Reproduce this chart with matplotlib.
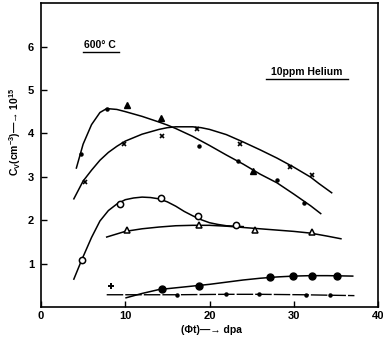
import matplotlib
matplotlib.use("Agg")
import matplotlib.pyplot as plt

plt.rcParams['font.family'] = ['Liberation Sans', 'DejaVu Sans']
plt.rcParams['font.weight'] = 'bold'
plt.rcParams['mathtext.fontset'] = 'custom'
plt.rcParams['mathtext.rm'] = 'Liberation Sans:bold'
plt.rcParams['mathtext.bf'] = 'Liberation Sans:bold'
plt.rcParams['mathtext.default'] = 'bf'

# fitted curves
top_x = [4.2, 5, 6, 7, 7.8, 9, 10, 12, 14, 15, 16, 18, 20, 22, 24, 26, 28, 30, 32, 33.2]
top_y = [3.2, 3.75, 4.2, 4.48, 4.57, 4.55, 4.5, 4.39, 4.26, 4.19, 4.11, 3.93, 3.72, 3.5, 3.29, 3.06, 2.86, 2.6, 2.33, 2.15]
cross_x = [3.9, 5, 6, 7, 8, 9, 10, 12, 14, 15, 16, 18, 19, 20, 22, 24, 26, 28, 30, 32, 33, 34.5]
cross_y = [2.49, 2.9, 3.15, 3.38, 3.56, 3.7, 3.82, 3.98, 4.09, 4.13, 4.15, 4.15, 4.13, 4.09, 3.97, 3.8, 3.62, 3.43, 3.22, 2.99, 2.84, 2.63]
sq_x = [3.9, 4.85, 6, 7, 8, 9, 10, 11, 12, 13, 14, 15, 16, 17, 18, 19, 20, 21, 22, 23, 24]
sq_y = [0.64, 1.09, 1.6, 1.98, 2.22, 2.37, 2.47, 2.51, 2.53, 2.52, 2.49, 2.42, 2.32, 2.2, 2.1, 2.01, 1.94, 1.9, 1.87, 1.86, 1.85]
tri_x = [7.8, 10, 12, 14, 16, 18, 20, 22, 24, 26, 28, 30, 32, 34, 35.6]
tri_y = [1.61, 1.74, 1.8, 1.84, 1.87, 1.88, 1.88, 1.86, 1.83, 1.8, 1.77, 1.74, 1.7, 1.63, 1.57]
circ_x = [10.1, 12, 14, 16, 18, 20, 22, 24, 26, 28, 30, 32, 34, 37]
circ_y = [0.21, 0.31, 0.4, 0.44, 0.48, 0.52, 0.57, 0.62, 0.66, 0.69, 0.71, 0.72, 0.72, 0.71]
low_x = [7.8, 16, 22, 26, 31, 37.2]
low_y = [0.28, 0.28, 0.29, 0.29, 0.28, 0.26]

# measured points
ftri_px = [10.2, 14.2, 25.2]
ftri_py = [4.66, 4.35, 3.12]
dot_px = [4.8, 7.8, 18.7, 23.4, 28.0, 31.2]
dot_py = [3.53, 4.57, 3.71, 3.36, 2.92, 2.4]
x_px = [5.2, 9.8, 14.4, 18.5, 23.6, 29.6, 32.2]
x_py = [2.88, 3.76, 3.93, 4.1, 3.75, 3.22, 3.03]
sq_px = [4.85, 9.4, 14.3, 18.6, 23.1]
sq_py = [1.09, 2.38, 2.5, 2.09, 1.88]
otri_px = [10.2, 18.8, 25.4, 32.2]
otri_py = [1.78, 1.89, 1.78, 1.72]
circ_px = [14.4, 18.7, 27.2, 29.95, 32.2, 35.1]
circ_py = [0.42, 0.48, 0.68, 0.71, 0.71, 0.71]
low_px = [16.2, 21.9, 25.9, 31.4, 34.3]
low_py = [0.28, 0.3, 0.29, 0.28, 0.27]
plus_px = [8.3]
plus_py = [0.49]

fig = plt.figure(figsize=(3.83, 3.46), dpi=100)
ax = fig.add_axes([0.107, 0.113, 0.88, 0.878])

lw = 1.1
ax.plot(top_x, top_y, 'k-', lw=lw)
ax.plot(cross_x, cross_y, 'k-', lw=lw)
ax.plot(sq_x, sq_y, 'k-', lw=lw)
ax.plot(tri_x, tri_y, 'k-', lw=lw)
ax.plot(circ_x, circ_y, 'k-', lw=lw)
ax.plot(low_x, low_y, 'k-', lw=lw * 0.9, linestyle=(0, (12, 1.5)))

ax.plot(ftri_px, ftri_py, 'k^', ms=4.5)
ax.plot(dot_px, dot_py, 'ko', ms=2.2)
ax.plot(x_px, x_py, 'kx', ms=3.5, mew=1.2)
ax.plot(sq_px, sq_py, 'o', mfc='white', mec='k', ms=4.5, mew=1.1)
ax.plot(otri_px, otri_py, '^', mfc='white', mec='k', ms=5, mew=1.1)
ax.plot(circ_px, circ_py, 'ko', ms=5)
ax.plot(low_px, low_py, 'ko', ms=2.2)
ax.plot(plus_px, plus_py, 'k+', ms=4, mew=1.4)

ax.set_xlim(0, 40)
ax.set_ylim(0, 7)
ax.set_xticks([0, 10, 20, 30, 40])
ax.set_yticks([1, 2, 3, 4, 5, 6])
ax.tick_params(direction='in', length=4, width=1, labelsize=8)
ax.tick_params(axis='x', pad=3)
ax.tick_params(axis='y', pad=5)
for s in ax.spines.values():
    s.set_linewidth(1.2)

ax.text(7.0, 6.04, '600° C', fontsize=7.5, ha='center', va='center', fontweight='bold')
ax.plot([5.0, 9.2], [5.88, 5.88], 'k-', lw=1.0)
ax.text(31.5, 5.41, '10ppm Helium', fontsize=7.5, ha='center', va='center', fontweight='bold')
ax.plot([26.7, 36.4], [5.25, 5.25], 'k-', lw=1.0)

fig.text(0.039, 0.618, 'C$_V$(cm$^{-3}$)\u2014\u2192 10$^{15}$', rotation=90,
         ha='center', va='center', fontsize=7.5, fontweight='bold')
fig.text(0.553, 0.046, '(Φt)\u2014\u2192 dpa', ha='center', va='center',
         fontsize=7.5, fontweight='bold')

fig.savefig('out.png', dpi=100)
